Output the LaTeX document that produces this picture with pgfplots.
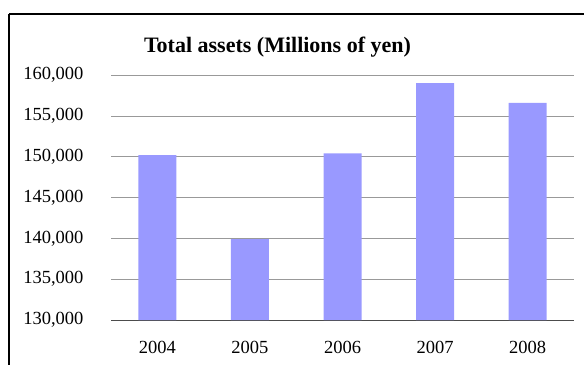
\documentclass[border=0pt]{standalone}
\usepackage{pgfplots}
\pgfplotsset{compat=1.18}
\usepackage{fontspec}
\setmainfont{Liberation Serif}
\definecolor{barc}{HTML}{9999FF}
\begin{document}
\begin{tikzpicture}[x=1pt,y=1pt]
\useasboundingbox (0,0) rectangle (584,365);
\draw[line width=1.6pt] (9,351) -- (584,351);
\draw[line width=1.6pt] (9,351) -- (9,0);
\node[font=\fontsize{22}{26}\selectfont\bfseries] at (277.5,318) {Total assets (Millions of yen)};
\begin{axis}[
  at={(111pt,45pt)}, anchor=south west,
  width=463pt, height=245pt, scale only axis,
  xmin=-0.5, xmax=4.5, ymin=130000, ymax=160000,
  axis x line*=bottom, axis y line*=left,
  y axis line style={draw=none},
  x axis line style={draw=black!70, line width=0.8pt},
  xtick={0,1,2,3,4}, xticklabels={2004,2005,2006,2007,2008},
  major x tick style={draw=none},
  extra x ticks={-0.5,0.5,1.5,2.5,3.5,4.5}, extra x tick labels={},
  extra x tick style={tick style={draw=black, line width=0.6pt}, major tick length=6pt, tick align=inside, grid=none},
  ytick={130000,135000,...,160000},
  y tick style={draw=none},
  ymajorgrids, grid style={draw=black!40, line width=0.6pt},
  scaled y ticks=false,
  yticklabel={\pgfmathprintnumber[fixed, 1000 sep={,}]{\tick}},
  /pgf/number format/assume math mode=true,
  tick label style={font=\fontsize{18.5}{22}\selectfont},
  xticklabel style={yshift=-13pt},
  yticklabel style={xshift=-24pt},
  ybar, bar width=38pt,
]
\addplot[fill=barc, draw=none] coordinates {(0,150200) (1,139900) (2,150400) (3,159000) (4,156600)};
\end{axis}
\end{tikzpicture}
\end{document}
